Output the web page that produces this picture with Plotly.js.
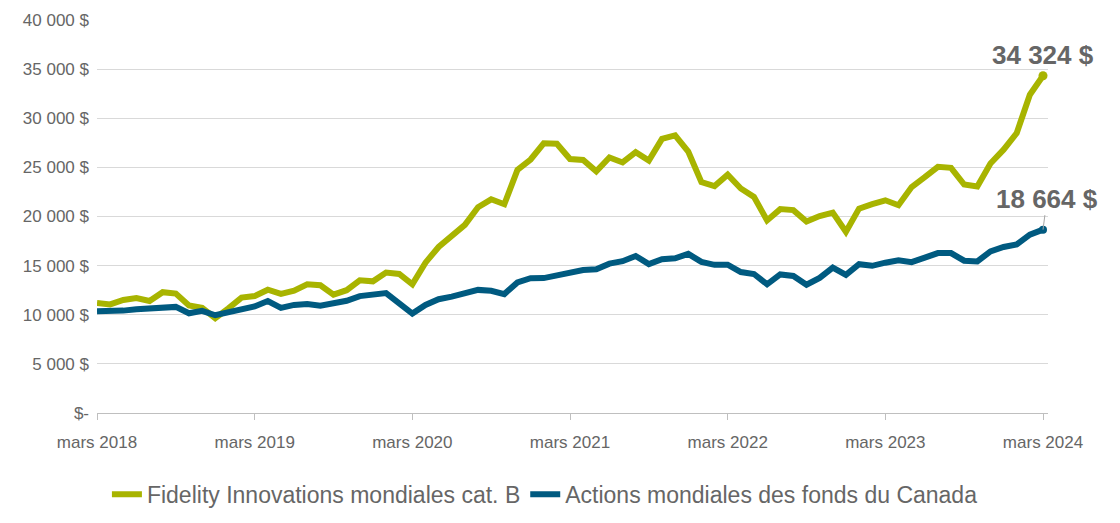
<!DOCTYPE html>
<html>
<head>
<meta charset="utf-8">
<script src="https://cdn.plot.ly/plotly-3.0.1.min.js"></script>
<style>
  html, body { margin: 0; padding: 0; background: #ffffff; }
  #chart { width: 1120px; height: 523px; }
</style>
</head>
<body>
<div id="chart"></div>
<script>
// Month index 0 = mars 2018 ... 72 = mars 2024
const months = Array.from({length: 73}, (_, i) => i);

const fidelityValues = [
  11200, 11050, 11500, 11700, 11400, 12300, 12150, 10950, 10700, 9650, 10650, 11750,
  11900, 12550, 12130, 12450, 13100, 13000, 12050, 12500, 13500, 13400, 14300, 14150,
  13100, 15300, 16900, 18100, 19150, 20950, 21750, 21250, 24750, 25800, 27450, 27400,
  25850, 25750, 24600, 26000, 25500, 26550, 25700, 27900, 28250, 26600, 23500, 23100,
  24250, 22850, 22000, 19600, 20750, 20650, 19500, 20050, 20400, 18450, 20800, 21250,
  21650, 21150, 23000, 24000, 25050, 24950, 23250, 23050, 25400, 26800, 28500, 32400,
  34324
];

const canadaValues = [
  10350, 10330, 10420, 10550, 10650, 10830, 10800, 10150, 10400, 9950, 10250, 10600,
  10850, 11400, 10700, 11000, 11100, 10920, 11180, 11420, 11900, 12100, 12200, 11150,
  10120, 11000, 11580, 11850, 12200, 12530, 12440, 12100, 13280, 13720, 13730, 14000,
  14320, 14550, 14620, 15200, 15450, 15980, 15150, 15650, 15750, 16200, 15380, 15080,
  15100, 14350, 14150, 13100, 14100, 13950, 13050, 13750, 14800, 14060, 15150, 14980,
  15300, 15550, 15350, 15780, 16280, 16280, 15500, 15430, 16450, 16900, 17150, 18150,
  18664
];

const seriesNames = ["Fidelity Innovations mondiales cat. B", "Actions mondiales des fonds du Canada"];
const endLabels = ["34 324 $", "18 664 $"];

const xTickVals = [0, 12, 24, 36, 48, 60, 72];
const xTickText = ["mars 2018", "mars 2019", "mars 2020", "mars 2021", "mars 2022", "mars 2023", "mars 2024"];

const yTickVals = [0, 5000, 10000, 15000, 20000, 25000, 30000, 35000, 40000];
const yTickText = ["$-", "5 000 $", "10 000 $", "15 000 $", "20 000 $", "25 000 $", "30 000 $", "35 000 $", "40 000 $"];

const GREEN = "#a8b400";
const BLUE = "#005a80";
const TEXT = "#666666";
const FONT = "Liberation Sans, Arial, sans-serif";

const last = months.length - 1;

const traces = [
  {
    x: months, y: fidelityValues, type: "scatter", mode: "lines",
    name: seriesNames[0],
    line: {color: GREEN, width: 6, shape: "linear"},
    hoverinfo: "skip"
  },
  {
    x: months, y: canadaValues, type: "scatter", mode: "lines",
    name: seriesNames[1],
    line: {color: BLUE, width: 6, shape: "linear"},
    hoverinfo: "skip"
  },
  {
    x: [months[last]], y: [fidelityValues[last]], type: "scatter", mode: "markers",
    marker: {color: GREEN, size: 9}, showlegend: false, hoverinfo: "skip"
  },
  {
    x: [months[last]], y: [canadaValues[last]], type: "scatter", mode: "markers",
    marker: {color: BLUE, size: 8}, showlegend: false, hoverinfo: "skip"
  }
];

const layout = {
  width: 1120, height: 523,
  margin: {l: 97, r: 72, t: 20, b: 110, autoexpand: false},
  paper_bgcolor: "#ffffff", plot_bgcolor: "#ffffff",
  font: {family: FONT, color: TEXT, size: 16},
  showlegend: true,
  legend: {
    orientation: "h", x: 0.471, xanchor: "center", y: -0.207, yanchor: "middle",
    font: {family: FONT, size: 23, color: TEXT},
    itemwidth: 30, tracegroupgap: 0
  },
  xaxis: {
    range: [0, 72.38],
    tickmode: "array", tickvals: xTickVals, ticktext: xTickText,
    showgrid: false, zeroline: false,
    showline: true, linecolor: "#bfbfbf", linewidth: 1,
    ticks: "outside", ticklen: 6, tickcolor: "#bfbfbf", tickwidth: 1,
    ticklabelstandoff: 8,
    tickfont: {family: FONT, size: 17, color: TEXT},
    automargin: false,
    fixedrange: true
  },
  yaxis: {
    range: [0, 40000],
    tickmode: "array", tickvals: yTickVals, ticktext: yTickText,
    showgrid: true, gridcolor: "#d9d9d9", gridwidth: 1,
    zeroline: false, showline: false, ticks: "",
    tickfont: {family: FONT, size: 17, color: TEXT},
    ticklabelstandoff: 7,
    automargin: false,
    fixedrange: true
  },
  annotations: [
    {
      x: months[last], y: fidelityValues[last], xref: "x", yref: "y",
      text: "<b>" + endLabels[0] + "</b>", showarrow: false,
      xanchor: "center", yanchor: "middle", yshift: 21, xshift: 0,
      font: {family: FONT, size: 26, color: TEXT}
    },
    {
      x: months[last], y: canadaValues[last], xref: "x", yref: "y",
      text: "<b>" + endLabels[1] + "</b>", showarrow: true,
      arrowhead: 0, arrowwidth: 1, arrowcolor: "#a6a6a6",
      ax: 4, ay: -31,
      font: {family: FONT, size: 26, color: TEXT}
    }
  ]
};

Plotly.newPlot("chart", traces, layout, {displayModeBar: false, staticPlot: true});
</script>
</body>
</html>
